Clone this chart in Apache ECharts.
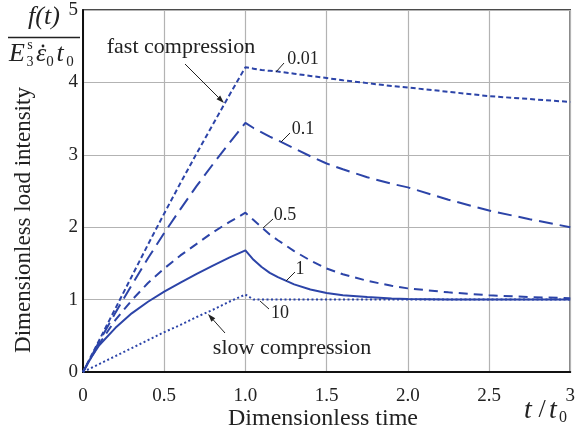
<!DOCTYPE html>
<html>
<head>
<meta charset="utf-8">
<script src="https://cdn.jsdelivr.net/npm/echarts@6/dist/echarts.min.js"></script>
<style>
  html, body { margin: 0; padding: 0; background: #fff; }
  #main { width: 578px; height: 431px; }
</style>
</head>
<body>
<div id="main"></div>
<script>
// dimensionless time samples shared by every curve
const tGrid = [0, 0.05, 0.1, 0.2, 0.3, 0.4, 0.5, 0.6, 0.7, 0.8, 0.9, 1.0,
  1.05, 1.1, 1.15, 1.2, 1.3, 1.4, 1.5, 1.6, 1.75, 1.9, 2.0, 2.25, 2.5, 2.75, 3.0];
// load intensity, one list per curve
const load001 = [0, 0.22, 0.44, 0.88, 1.32, 1.76, 2.19, 2.61, 3.02, 3.42, 3.82, 4.21,
  4.19, 4.17, 4.16, 4.15, 4.12, 4.09, 4.06, 4.03, 3.99, 3.95, 3.93, 3.87, 3.81, 3.77, 3.73];
const load01 = [0, 0.21, 0.42, 0.82, 1.20, 1.57, 1.92, 2.25, 2.57, 2.87, 3.16, 3.44,
  3.37, 3.31, 3.25, 3.20, 3.09, 2.98, 2.88, 2.80, 2.69, 2.60, 2.55, 2.38, 2.23, 2.11, 2.00];
const load05 = [0, 0.20, 0.39, 0.72, 0.99, 1.23, 1.43, 1.61, 1.77, 1.93, 2.07, 2.20,
  2.10, 2.00, 1.90, 1.82, 1.67, 1.54, 1.43, 1.35, 1.26, 1.19, 1.155, 1.10, 1.06, 1.035, 1.02];
const load1 = [0, 0.20, 0.37, 0.61, 0.81, 0.97, 1.11, 1.235, 1.355, 1.47, 1.58, 1.68,
  1.55, 1.45, 1.37, 1.31, 1.21, 1.14, 1.09, 1.06, 1.035, 1.015, 1.01, 1.0, 1.0, 1.0, 1.0];
const load10 = [0, 0.055, 0.11, 0.22, 0.33, 0.44, 0.55, 0.65, 0.76, 0.86, 0.97, 1.07,
  1.0, 1.0, 1.0, 1.0, 1.0, 1.0, 1.0, 1.0, 1.0, 1.0, 1.0, 1.0, 1.0, 1.0, 1.0];
const xTicks = ['0', '0.5', '1.0', '1.5', '2.0', '2.5', '3'];

const blue = '#2c44a8';
const ink = '#222';
const serif = '"Liberation Serif", "DejaVu Serif", serif';

function pairs(ys) {
  return tGrid.map(function (t, i) { return [t, ys[i]]; });
}

function curve(name, ys, dash) {
  return {
    name: name,
    type: 'line',
    data: pairs(ys),
    showSymbol: false,
    smooth: false,
    silent: true,
    lineStyle: { color: blue, width: 2, type: dash },
  };
}

function txt(x, y, s, size, extra) {
  return {
    type: 'text', x: x, y: y, z: 10,
    style: Object.assign({
      text: s, fill: ink, font: size + 'px ' + serif,
      align: 'center', verticalAlign: 'middle',
    }, extra || {}),
  };
}

function seg(x1, y1, x2, y2, w) {
  return {
    type: 'line', z: 10,
    shape: { x1: x1, y1: y1, x2: x2, y2: y2 },
    style: { stroke: ink, lineWidth: w || 1 },
  };
}

// line with a small filled head at (x2, y2)
function arrow(x1, y1, x2, y2) {
  const len = Math.hypot(x2 - x1, y2 - y1);
  const dx = (x2 - x1) / len, dy = (y2 - y1) / len;
  const bx = x2 - 8 * dx, by = y2 - 8 * dy;
  return [
    seg(x1, y1, bx, by, 1),
    {
      type: 'polygon', z: 10,
      shape: { points: [[x2, y2], [bx - 2.6 * dy, by + 2.6 * dx], [bx + 2.6 * dy, by - 2.6 * dx]] },
      style: { fill: ink },
    },
  ];
}

const chart = echarts.init(document.getElementById('main'));

const graphics = [
  // y title as a fraction
  txt(44, 17, 'f(t)', 26, { font: 'italic 26px ' + serif }),
  seg(8, 37.5, 80, 37.5, 1.5),
  txt(17, 54, 'E', 26, { font: 'italic 26px ' + serif }),
  txt(30, 45, 's', 14),
  txt(30, 62, '3', 14),
  txt(41, 54, '\u03B5', 26, { font: 'italic 26px ' + serif }),
  { type: 'circle', z: 10, shape: { cx: 43, cy: 46, r: 1.4 }, style: { fill: ink } },
  txt(50, 62, '0', 15),
  txt(60, 54, 't', 26, { font: 'italic 26px ' + serif }),
  txt(70, 62, '0', 15),
  // axis titles
  {
    type: 'text', x: 24, y: 220, rotation: Math.PI / 2, z: 10,
    style: {
      text: 'Dimensionless load intensity', fill: ink, font: '23px ' + serif,
      align: 'center', verticalAlign: 'middle',
    },
  },
  txt(323, 419, 'Dimensionless time', 24),
  txt(528, 411, 't', 28, { font: 'italic 28px ' + serif }),
  txt(542, 410, '/', 26),
  txt(553, 411, 't', 28, { font: 'italic 28px ' + serif }),
  txt(563, 418, '0', 16),
  // annotations
  txt(181, 47, 'fast compression', 22),
  txt(292, 348, 'slow compression', 22),
  txt(303, 59, '0.01', 18),
  seg(276, 72, 284, 63),
  txt(303, 129, '0.1', 18),
  seg(281, 142, 290, 133),
  txt(285, 215, '0.5', 18),
  seg(263, 228, 273, 219),
  txt(300, 269, '1', 18),
  seg(286, 281, 295, 272),
  txt(280, 313, '10', 18),
  seg(260, 301, 269, 309),
].concat(arrow(185, 64, 224, 103), arrow(225, 333, 208, 314));

chart.setOption({
  animation: false,
  backgroundColor: '#fff',
  grid: {
    left: 83, right: 5, top: 10, bottom: 59,
    show: true, borderColor: '#111', borderWidth: 1.5,
  },
  xAxis: {
    type: 'value', min: 0, max: 3, interval: 0.5,
    axisLine: { show: true, lineStyle: { color: '#111', width: 2 } },
    axisTick: { show: false },
    splitLine: { show: true, lineStyle: { color: '#b3b3b3', width: 1.2 } },
    axisLabel: {
      color: ink, fontFamily: serif, fontSize: 19, margin: 15,
      formatter: function (v) { return xTicks[Math.round(v * 2)]; },
    },
  },
  yAxis: {
    type: 'value', min: 0, max: 5, interval: 1,
    axisLine: { show: true, lineStyle: { color: '#111', width: 2 } },
    axisTick: { show: false },
    splitLine: { show: true, lineStyle: { color: '#b3b3b3', width: 1.2 } },
    axisLabel: { color: ink, fontFamily: serif, fontSize: 19, margin: 5 },
  },
  series: [
    curve('0.01', load001, [5, 3]),
    curve('0.1', load01, [14, 7]),
    curve('0.5', load05, [9, 6]),
    curve('1', load1, 'solid'),
    curve('10', load10, [2, 2.5]),
  ],
  graphic: graphics,
});
</script>
</body>
</html>
